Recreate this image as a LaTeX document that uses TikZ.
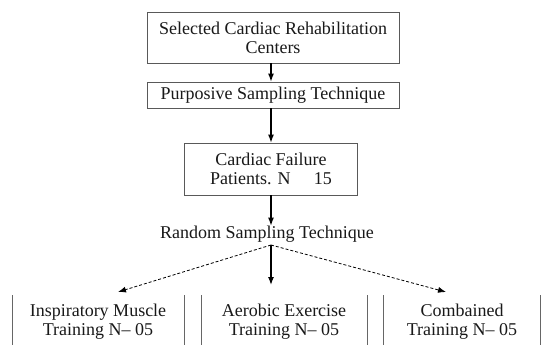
\documentclass[tikz,border=0pt]{standalone}
\usepackage{fontspec}
\setmainfont{Liberation Serif}
\usetikzlibrary{arrows.meta}
\begin{document}
\begin{tikzpicture}[x=1pt,y=-1pt,
  every node/.style={font=\fontsize{18}{19}\selectfont, text=black!90},
  boxed/.style={draw=black!65, line width=0.8pt, inner sep=0pt, align=center},
  plain/.style={inner sep=0pt, align=center},
  arr/.style={-{Latex[length=8pt,width=6pt]}, line width=1.2pt},
  darr/.style={-{Latex[length=8pt,width=6pt]}, line width=0.8pt, densely dashed},
  edge/.style={draw=black!60, line width=1pt}]
\useasboundingbox (0,0) rectangle (544,345);
\fill[white] (0,0) rectangle (544,345);
\node[boxed, minimum width=252pt, minimum height=51pt] (b1) at (273,37.5) {Selected Cardiac Rehabilitation\\Centers};
\node[boxed, minimum width=252pt, minimum height=26pt] (b2) at (273,95) {Purposive Sampling Technique};
\node[boxed, minimum width=173pt, minimum height=52pt] (b3) at (271,169) {Cardiac Failure\\Patients. N\hspace{1.3em}15};
\node[plain] (rst) at (267,234) {Random Sampling Technique};
\coordinate (split) at (271,245);
\coordinate (tl) at (118,292);
\coordinate (tm) at (271,285);
\coordinate (tr) at (446,292);
\node[plain] (g1) at (98,322) {Inspiratory Muscle\\Training N– 05};
\node[plain] (g2) at (284,322) {Aerobic Exercise\\Training N– 05};
\node[plain] (g3) at (462,322) {Combained\\Training N– 05};
\draw[arr] (b1.south -| 271,0) -- (b2.north -| 271,0);
\draw[arr] (b2.south -| 271,0) -- (b3.north -| 271,0);
\draw[arr] (b3.south -| 271,0) -- (rst.north -| 271,0);
\draw[arr] (split) -- (tm);
\draw[darr] (split) -- (tl);
\draw[darr] (split) -- (tr);
\foreach \x in {12,184,201,367,383,540} \draw[edge] (\x,295) -- (\x,345);
\end{tikzpicture}
\end{document}
